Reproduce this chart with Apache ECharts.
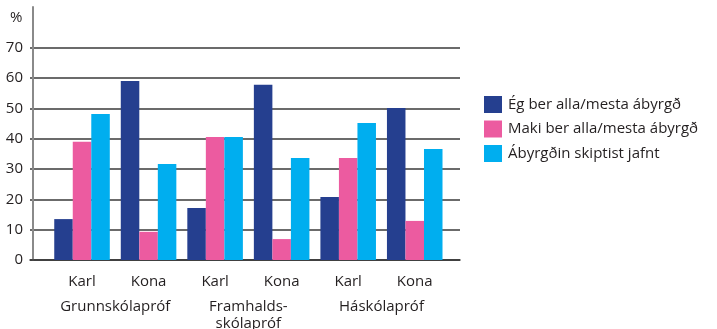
<!DOCTYPE html>
<html>
<head>
<meta charset="utf-8">
<script src="https://cdn.jsdelivr.net/npm/echarts@6/dist/echarts.min.js"></script>
<style>
html,body{margin:0;padding:0;background:#fff;}
#chart{width:717px;height:329px;}
</style>
</head>
<body>
<div id="chart"></div>
<script>
var categories = ['Karl', 'Kona', 'Karl', 'Kona', 'Karl', 'Kona'];
var groups = ['Grunnskólapróf', 'Framhalds-\nskólapróf', 'Háskólapróf'];
var seriesNames = ['Ég ber alla/mesta ábyrgð', 'Maki ber alla/mesta ábyrgð', 'Ábyrgðin skiptist jafnt'];
var egBer = [13.5, 59.1, 17.2, 57.8, 20.8, 50.2];
var makiBer = [39.0, 9.3, 40.6, 6.9, 33.7, 12.9];
var jafnt = [48.2, 31.7, 40.6, 33.7, 45.2, 36.6];
var colors = ['#253F8F', '#EC5BA0', '#00AEEF'];

var FONT = 'Open Sans';
var TXT = '#231F20';
var yMax = 83.5;
var gridTop = 7, gridBottom = 69;
var lc = '#3a3a3a';

var chart = echarts.init(document.getElementById('chart'), null, {renderer: 'canvas'});
chart.setOption({
  animation: false,
  textStyle: {fontFamily: FONT},
  title: {text: '%', left: 10, top: 10, padding: 0, textStyle: {fontFamily: FONT, fontSize: 15, fontWeight: 'normal', color: TXT}},
  legend: {
    orient: 'vertical', left: 484, top: 96, padding: 0,
    itemWidth: 18, itemHeight: 17, itemGap: 7.5,
    icon: 'rect',
    textStyle: {fontFamily: FONT, fontSize: 15, color: TXT, padding: [0, 0, 0, 1]},
    data: seriesNames
  },
  grid: [
    {left: 30, right: 257, top: gridTop, bottom: gridBottom, containLabel: false, outerBoundsMode: 'none'},
    {left: 48.75, right: 269, top: gridTop, bottom: gridBottom, containLabel: false, outerBoundsMode: 'none'}
  ],
  xAxis: [
    {gridIndex: 0, type: 'category', data: [''], axisLabel: {show: false}, axisTick: {show: false},
     axisLine: {show: true, lineStyle: {color: '#333', width: 1.5}}},
    {gridIndex: 1, type: 'category', data: categories,
     axisLine: {show: false}, axisTick: {show: false},
     axisLabel: {interval: 0, margin: 14, fontFamily: FONT, fontSize: 15, color: TXT}},
    {gridIndex: 1, type: 'category', data: groups, position: 'bottom', offset: 24,
     axisLine: {show: false}, axisTick: {show: false},
     axisLabel: {interval: 0, hideOverlap: false, margin: 14, fontFamily: FONT, fontSize: 15, color: TXT, lineHeight: 17}}
  ],
  yAxis: [
    {gridIndex: 0, type: 'value', min: 0, max: yMax, interval: 10, offset: -3,
     axisLine: {show: true, lineStyle: {color: '#8a8a8a', width: 2}},
     axisTick: {show: false},
     axisLabel: {margin: 10, fontFamily: FONT, fontSize: 15, color: TXT,
       formatter: function (v) { return v <= 70 ? String(v) : ''; }},
     splitLine: {show: true, showMinLine: true, showMaxLine: false,
       lineStyle: {width: 1.5, color: [lc, lc, lc, lc, lc, lc, lc, lc, 'rgba(0,0,0,0)', 'rgba(0,0,0,0)']}}},
    {gridIndex: 1, type: 'value', min: 0, max: yMax, interval: 10, show: false,
     splitLine: {show: false}}
  ],
  series: [
    {name: seriesNames[0], type: 'bar', xAxisIndex: 1, yAxisIndex: 1, data: egBer,
     itemStyle: {color: colors[0]}, barGap: '0%', barCategoryGap: '16.5%'},
    {name: seriesNames[1], type: 'bar', xAxisIndex: 1, yAxisIndex: 1, data: makiBer,
     itemStyle: {color: colors[1]}, barGap: '0%', barCategoryGap: '16.5%'},
    {name: seriesNames[2], type: 'bar', xAxisIndex: 1, yAxisIndex: 1, data: jafnt,
     itemStyle: {color: colors[2]}, barGap: '0%', barCategoryGap: '16.5%'}
  ]
});
</script>
</body>
</html>
